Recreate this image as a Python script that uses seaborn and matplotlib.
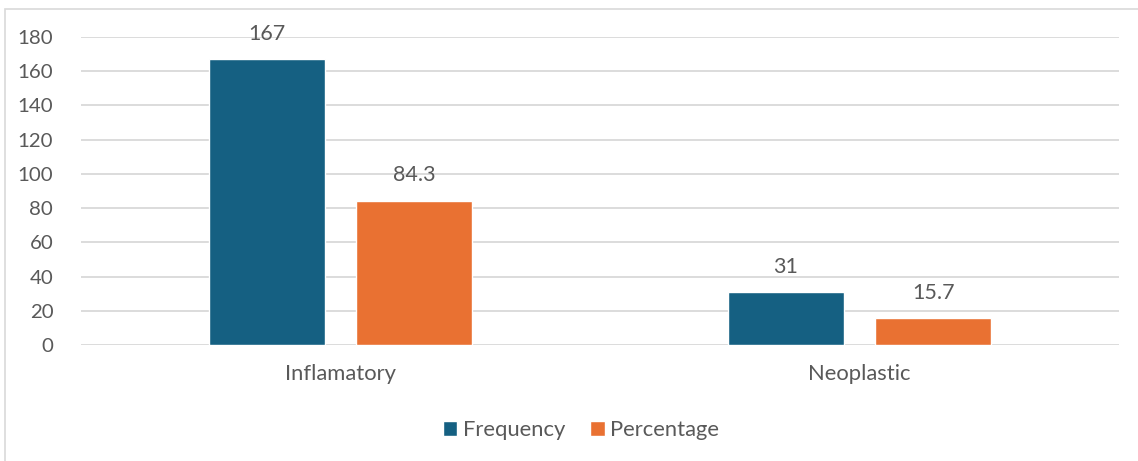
import matplotlib
matplotlib.use("Agg")
import matplotlib.pyplot as plt
from matplotlib.patches import Rectangle
import seaborn as sns
import pandas as pd

categories = ["Inflamatory", "Neoplastic"]
frequency = [167, 31]
percentage = [84.3, 15.7]
series_names = ["Frequency", "Percentage"]
y_ticks = [0, 20, 40, 60, 80, 100, 120, 140, 160, 180]

colors = ["#156082", "#E97132"]
text_color = "#595959"
grid_color = "#D9D9D9"

df = pd.DataFrame({
    "category": categories * 2,
    "series": [series_names[0]] * len(categories) + [series_names[1]] * len(categories),
    "value": frequency + percentage,
})

sns.set_theme(style="white")
plt.rcParams["font.family"] = ["Lato", "DejaVu Sans"]

fig = plt.figure(figsize=(11.38, 4.61), dpi=100)
ax = fig.add_axes([81 / 1138, 1 - 345 / 461, (1119 - 81) / 1138, (345 - 37) / 461])

sns.barplot(data=df, x="category", y="value", hue="series", order=categories,
            hue_order=series_names, palette=colors, width=0.57, gap=0.216,
            saturation=1, ax=ax, legend=True, errorbar=None)

ax.set_xlim(-0.5, 1.5)
ax.set_ylim(0, 180)
ax.set_yticks(y_ticks)
ax.set_axisbelow(True)
ax.yaxis.grid(True, color=grid_color, linewidth=1.3)
ax.xaxis.grid(False)
for s in ax.spines.values():
    s.set_visible(False)
ax.tick_params(axis="y", length=0, labelsize=14.7, colors=text_color, pad=20)
ax.tick_params(axis="x", length=0, labelsize=15.8, colors=text_color, pad=14)
ax.set_xlabel("")
ax.set_ylabel("")

for container in ax.containers:
    ax.bar_label(container, labels=[f"{v:g}" for v in container.datavalues],
                 padding=11, fontsize=15.5, color=text_color)

handles, labels = ax.get_legend_handles_labels()
ax.get_legend().remove()
fig.legend(handles, labels, loc="center", bbox_to_anchor=(581 / 1138, 1 - 430 / 461),
           ncol=2, frameon=False, fontsize=15.8, labelcolor=text_color,
           handlelength=0.66, handleheight=0.66, handletextpad=0.24, columnspacing=1.15)

# chart area outline
fig.patches.append(Rectangle((4.5 / 1138, -0.1), 1.2, 1 - 8.5 / 461 + 0.1,
                             transform=fig.transFigure, fill=False,
                             edgecolor="#D9D9D9", linewidth=1.2, zorder=-1))

fig.savefig("out.png", dpi=100)
